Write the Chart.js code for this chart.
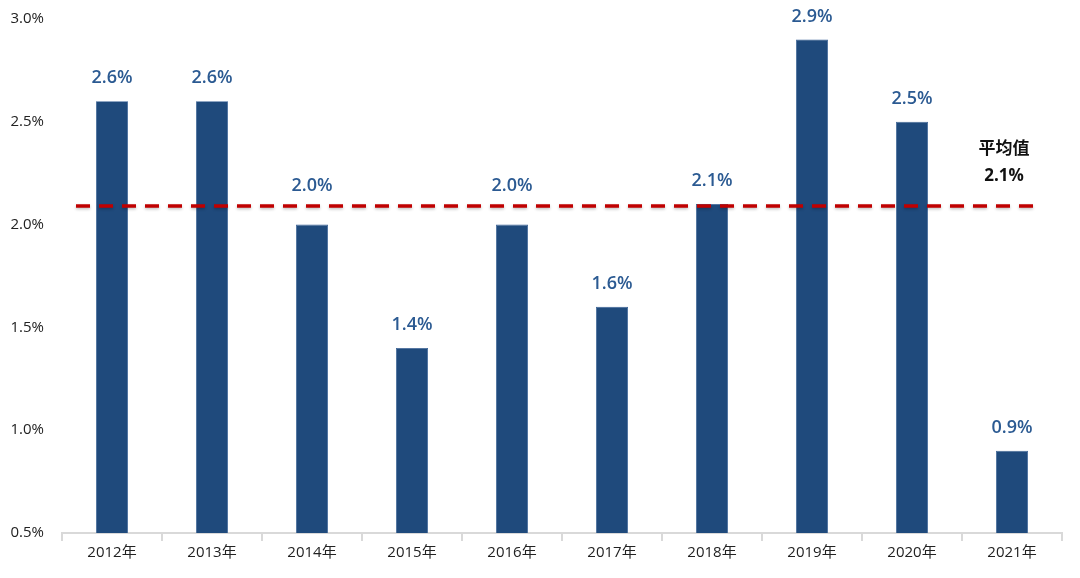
<!DOCTYPE html>
<html><head><meta charset="utf-8">
<script src="https://cdn.jsdelivr.net/npm/chart.js@4/dist/chart.umd.min.js"></script>
<style>html,body{margin:0;padding:0;background:#fff}#wrap{width:1080px;height:578px}</style>
</head><body><div id="wrap"><canvas id="c" width="1080" height="578"></canvas></div>
<script>
const categories = ['2012年','2013年','2014年','2015年','2016年','2017年','2018年','2019年','2020年','2021年'];
const rates = [2.6, 2.6, 2.0, 1.4, 2.0, 1.6, 2.1, 2.9, 2.5, 0.9];
const averageValue = 2.09;
const averageLabel = ['平均值', '2.1%'];
const yTicks = [0.5, 1.0, 1.5, 2.0, 2.5, 3.0];

const FONT = "'Open Sans','Noto Sans CJK SC',sans-serif";

const overlayPlugin = {
  id: 'overlay',
  afterDatasetsDraw(chart) {
    const ctx = chart.ctx, x = chart.scales.x, y = chart.scales.y, area = chart.chartArea;
    const yAvg = y.getPixelForValue(averageValue);
    ctx.save();
    ctx.strokeStyle = '#c00000';
    ctx.lineWidth = 3.5;
    ctx.setLineDash([14, 9]);
    ctx.shadowColor = 'rgba(0,0,0,0.25)';
    ctx.shadowBlur = 3;
    ctx.shadowOffsetY = 1.5;
    ctx.beginPath();
    ctx.moveTo(area.left + 14, yAvg);
    ctx.lineTo(area.right - 26, yAvg);
    ctx.stroke();
    ctx.restore();
    ctx.save();
    ctx.font = "600 18px " + FONT;
    ctx.fillStyle = '#2b5a92';
    ctx.textAlign = 'center';
    ctx.textBaseline = 'middle';
    const meta = chart.getDatasetMeta(0);
    meta.data.forEach((bar, i) => {
      let ly = bar.y - 23;
      if (Math.abs(ly - yAvg) < 14) ly = yAvg - 20;
      ctx.fillText(rates[i].toFixed(1) + '%', bar.x, ly);
    });
    ctx.font = "bold 17px " + FONT;
    ctx.fillStyle = '#111';
    const ax = x.getPixelForValue(categories.length - 1) - 8;
    ctx.fillText(averageLabel[0], ax, yAvg - 57);
    ctx.fillText(averageLabel[1], ax, yAvg - 30);
    ctx.restore();
  }
};

new Chart(document.getElementById('c'), {
  type: 'bar',
  data: {
    labels: categories,
    datasets: [{
      data: rates.map((v) => v),
      backgroundColor: '#1f4a7c',
      borderColor: '#3a6296',
      borderWidth: 0.8,
      categoryPercentage: 1,
      barPercentage: 0.32
    }]
  },
  options: {
    responsive: false,
    animation: false,
    layout: { padding: { top: 12, right: 18, bottom: 13, left: 0 } },
    plugins: { legend: { display: false }, tooltip: { enabled: false } },
    scales: {
      x: {
        offset: true,
        grid: { display: true, offset: true, drawOnChartArea: false, color: '#d9d9d9', lineWidth: 2, tickLength: 8 },
        border: { display: true, color: '#d9d9d9', width: 2 },
        ticks: { color: '#222', font: { family: FONT, size: 15 }, padding: 3, maxRotation: 0 }
      },
      y: {
        min: yTicks[0], max: yTicks[yTicks.length - 1],
        afterBuildTicks: (s) => { s.ticks = yTicks.map(v => ({ value: v })); },
        afterFit: (s) => { s.width = 62; },
        grid: { display: false },
        border: { display: false },
        ticks: { color: '#222', font: { family: FONT, size: 15 }, padding: 10, callback: (v) => Number(v).toFixed(1) + '%' }
      }
    }
  },
  plugins: [overlayPlugin]
});
</script>
</body></html>
